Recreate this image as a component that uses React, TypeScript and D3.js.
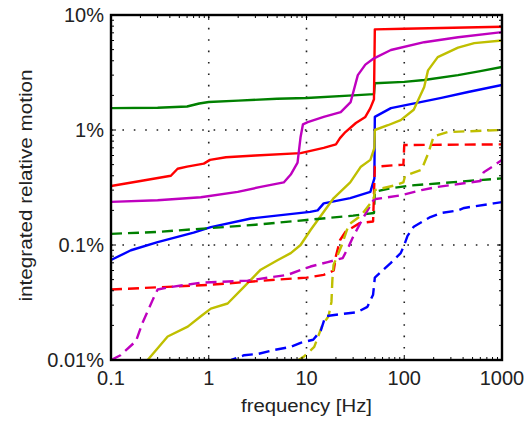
import React from "react";
import * as d3 from "d3";

// values: [frequency Hz, integrated relative motion %]
const xTicks = [0.1, 1, 10, 100, 1000];
const xTickLabels = ["0.1", "1", "10", "100", "1000"];
const yTicks = [0.01, 0.1, 1, 10];
const yTickLabels = ["0.01%", "0.1%", "1%", "10%"];

const greenSolid: [number, number][] = [
  [0.1, 1.55], [0.3, 1.56], [0.6, 1.6], [0.8, 1.7], [1, 1.75], [2, 1.8], [5, 1.87],
  [10, 1.9], [30, 2.0], [49, 2.05], [50, 2.55], [100, 2.62], [160, 2.72], [355, 3.0],
  [600, 3.25], [1000, 3.53],
];
const redSolid: [number, number][] = [
  [0.1, 0.326], [0.2, 0.36], [0.41, 0.4], [0.48, 0.46], [0.6, 0.48], [0.89, 0.51],
  [1.03, 0.55], [1.5, 0.58], [3, 0.6], [8.7, 0.63], [15, 0.7], [20, 0.75], [22, 0.85],
  [25, 0.96], [32, 1.15], [40, 1.3], [45, 1.55], [49, 1.85], [50, 7.5], [100, 7.6],
  [1000, 7.9],
];
const magentaSolid: [number, number][] = [
  [0.1, 0.237], [0.3, 0.245], [0.83, 0.26], [1.98, 0.29], [3.4, 0.32], [5.85, 0.35],
  [6.9, 0.41], [8.1, 0.52], [8.7, 0.87], [9.2, 1.12], [10.3, 1.17], [15, 1.3],
  [22.4, 1.43], [28.3, 1.75], [33.5, 3.0], [40, 3.7], [49, 4.2], [73, 4.96],
  [160, 5.8], [355, 6.4], [1000, 7.1],
];
const blueSolid: [number, number][] = [
  [0.1, 0.074], [0.16, 0.09], [0.3, 0.106], [0.7, 0.128], [1.05, 0.143], [2.7, 0.17],
  [10.9, 0.194], [13, 0.2], [15, 0.23], [28, 0.256], [45, 0.29], [49.5, 0.38],
  [50, 1.3], [73, 1.55], [240, 1.9], [450, 2.14], [1000, 2.46],
];
const yellowSolid: [number, number][] = [
  [0.22, 0.0093], [0.237, 0.01], [0.38, 0.016], [0.61, 0.0195], [0.83, 0.024],
  [1.05, 0.028], [1.56, 0.031], [2.28, 0.043], [3.4, 0.061], [5.1, 0.074],
  [6.9, 0.085], [8.7, 0.1], [11, 0.135], [19, 0.256], [28, 0.35], [36, 0.48],
  [45, 0.55], [47.5, 0.63], [49.5, 0.7], [50, 1.0], [68, 1.1], [92, 1.22],
  [125, 1.5], [160, 2.37], [175, 3.3], [220, 4.3], [355, 5.2], [520, 5.7], [1000, 6.0],
];
const greenDashed: [number, number][] = [
  [0.1, 0.125], [0.3, 0.13], [1, 0.14], [3, 0.15], [10, 0.165], [30, 0.18], [49, 0.19],
  [50, 0.29], [70, 0.31], [120, 0.33], [240, 0.345], [1000, 0.38],
];
const redDashed: [number, number][] = [
  [0.1, 0.041], [1, 0.045], [5, 0.05], [10, 0.052], [15, 0.055], [19, 0.06], [20, 0.08],
  [22, 0.11], [25, 0.13], [35, 0.155], [48, 0.16], [50, 0.48], [98, 0.5], [100, 0.74],
  [1000, 0.75],
];
const magentaDashed: [number, number][] = [
  [0.1, 0.01], [0.125, 0.011], [0.18, 0.0146], [0.21, 0.021], [0.27, 0.034], [0.3, 0.041],
  [0.4, 0.043], [0.83, 0.047], [2.5, 0.049], [6.4, 0.055], [11, 0.065], [16.5, 0.071],
  [23.5, 0.077], [27, 0.097], [30, 0.118], [37, 0.165], [49, 0.25], [92, 0.27],
  [150, 0.3], [220, 0.32], [600, 0.36], [650, 0.43], [800, 0.48], [1000, 0.55],
];
const yellowDashed: [number, number][] = [
  [8, 0.0098], [9.4, 0.0107], [12, 0.013], [14.5, 0.02], [16.8, 0.024], [18, 0.032],
  [18.4, 0.05], [18.9, 0.067], [23, 0.1], [27, 0.15], [36, 0.18], [45, 0.23], [49, 0.26],
  [50, 0.3], [80, 0.33], [98, 0.35], [102, 0.4], [150, 0.45], [175, 0.62], [200, 0.88],
  [280, 0.96], [1000, 1.0],
];
const blueDashed: [number, number][] = [
  [1.0, 0.0097], [1.7, 0.01], [2.3, 0.011], [3.2, 0.0113], [4.6, 0.0122], [6.9, 0.013],
  [8.7, 0.0141], [11.7, 0.015], [14, 0.018], [15.6, 0.024], [22, 0.025], [33, 0.026],
  [42, 0.029], [48, 0.037], [50, 0.052], [73, 0.07], [92, 0.085], [100, 0.1],
  [108, 0.12], [125, 0.144], [185, 0.175], [240, 0.19], [355, 0.2], [410, 0.21],
  [820, 0.23], [1000, 0.236],
];

const series = [
  { data: greenSolid, color: "#008000", dashed: false },
  { data: redSolid, color: "#ff0000", dashed: false },
  { data: magentaSolid, color: "#bf00bf", dashed: false },
  { data: blueSolid, color: "#0000ff", dashed: false },
  { data: yellowSolid, color: "#bfbf00", dashed: false },
  { data: greenDashed, color: "#008000", dashed: true },
  { data: redDashed, color: "#ff0000", dashed: true },
  { data: magentaDashed, color: "#bf00bf", dashed: true },
  { data: yellowDashed, color: "#bfbf00", dashed: true },
  { data: blueDashed, color: "#0000ff", dashed: true },
];

const width = 527;
const height = 421;
const margin = { top: 15, right: 25, bottom: 61, left: 111 };
const font = "'Liberation Sans', Arial, sans-serif";

export default function App() {
  const x = d3.scaleLog().domain([0.1, 1000]).range([margin.left, width - margin.right]);
  const y = d3.scaleLog().domain([0.01, 10]).range([height - margin.bottom, margin.top]);
  const [x0, x1] = x.range();
  const [y0, y1] = y.range();

  const line = d3
    .line<[number, number]>()
    .x((d) => x(d[0]))
    .y((d) => y(d[1]));

  const minor = (ticks: number[]) =>
    ticks.slice(0, -1).flatMap((t) => d3.range(2, 10).map((k) => t * k));
  const xMinor = minor(xTicks);
  const yMinor = minor(yTicks);

  return (
    <svg
      width={width}
      height={height}
      style={{ position: "absolute", left: 0, top: 0, background: "#fff" }}
      fontFamily={font}
    >
      <defs>
        <clipPath id="plot">
          <rect x={x0} y={y1} width={x1 - x0} height={y0 - y1} />
        </clipPath>
      </defs>

      {/* dotted grid at decades */}
      <g stroke="#222" strokeWidth={1.6} strokeDasharray="1.6,9.8">
        {xTicks.slice(1, -1).map((t) => (
          <line key={"gx" + t} x1={x(t)} x2={x(t)} y1={y0} y2={y1} />
        ))}
        {yTicks.slice(1, -1).map((t) => (
          <line key={"gy" + t} x1={x0} x2={x1} y1={y(t)} y2={y(t)} />
        ))}
      </g>

      <g clipPath="url(#plot)" fill="none" strokeWidth={2.4} strokeLinejoin="round">
        {series.map((s, i) => (
          <path
            key={i}
            d={line(s.data) ?? ""}
            stroke={s.color}
            strokeDasharray={s.dashed ? "11,6" : undefined}
          />
        ))}
      </g>

      {/* ticks inside on all four sides */}
      <g stroke="#000" strokeWidth={1}>
        {xTicks.map((t) => (
          <g key={"tx" + t}>
            <line x1={x(t)} x2={x(t)} y1={y0} y2={y0 - 5} />
            <line x1={x(t)} x2={x(t)} y1={y1} y2={y1 + 5} />
          </g>
        ))}
        {xMinor.map((t) => (
          <g key={"mx" + t}>
            <line x1={x(t)} x2={x(t)} y1={y0} y2={y0 - 3} />
            <line x1={x(t)} x2={x(t)} y1={y1} y2={y1 + 3} />
          </g>
        ))}
        {yTicks.map((t) => (
          <g key={"ty" + t}>
            <line x1={x0} x2={x0 + 5} y1={y(t)} y2={y(t)} />
            <line x1={x1} x2={x1 - 5} y1={y(t)} y2={y(t)} />
          </g>
        ))}
        {yMinor.map((t) => (
          <g key={"my" + t}>
            <line x1={x0} x2={x0 + 3} y1={y(t)} y2={y(t)} />
            <line x1={x1} x2={x1 - 3} y1={y(t)} y2={y(t)} />
          </g>
        ))}
      </g>

      <rect x={x0} y={y1} width={x1 - x0} height={y0 - y1} fill="none" stroke="#000" strokeWidth={2.4} />

      <g fontSize={20} fill="#222">
        {xTicks.map((t, i) => (
          <text key={"lx" + t} x={x(t)} y={y0 + 25} textAnchor="middle">
            {xTickLabels[i]}
          </text>
        ))}
        {yTicks.map((t, i) => (
          <text key={"ly" + t} x={x0 - 7} y={y(t) + 7} textAnchor="end">
            {yTickLabels[i]}
          </text>
        ))}
      </g>

      <text
        x={(x0 + x1) / 2}
        y={412}
        textAnchor="middle"
        fontSize={18}
        fill="#222"
        textLength={131}
        lengthAdjust="spacingAndGlyphs"
      >
        frequency [Hz]
      </text>
      <text
        transform={`translate(32,${(y0 + y1) / 2 - 2}) rotate(-90)`}
        textAnchor="middle"
        fontSize={19}
        fill="#222"
        textLength={232}
        lengthAdjust="spacingAndGlyphs"
      >
        integrated relative motion
      </text>
    </svg>
  );
}
